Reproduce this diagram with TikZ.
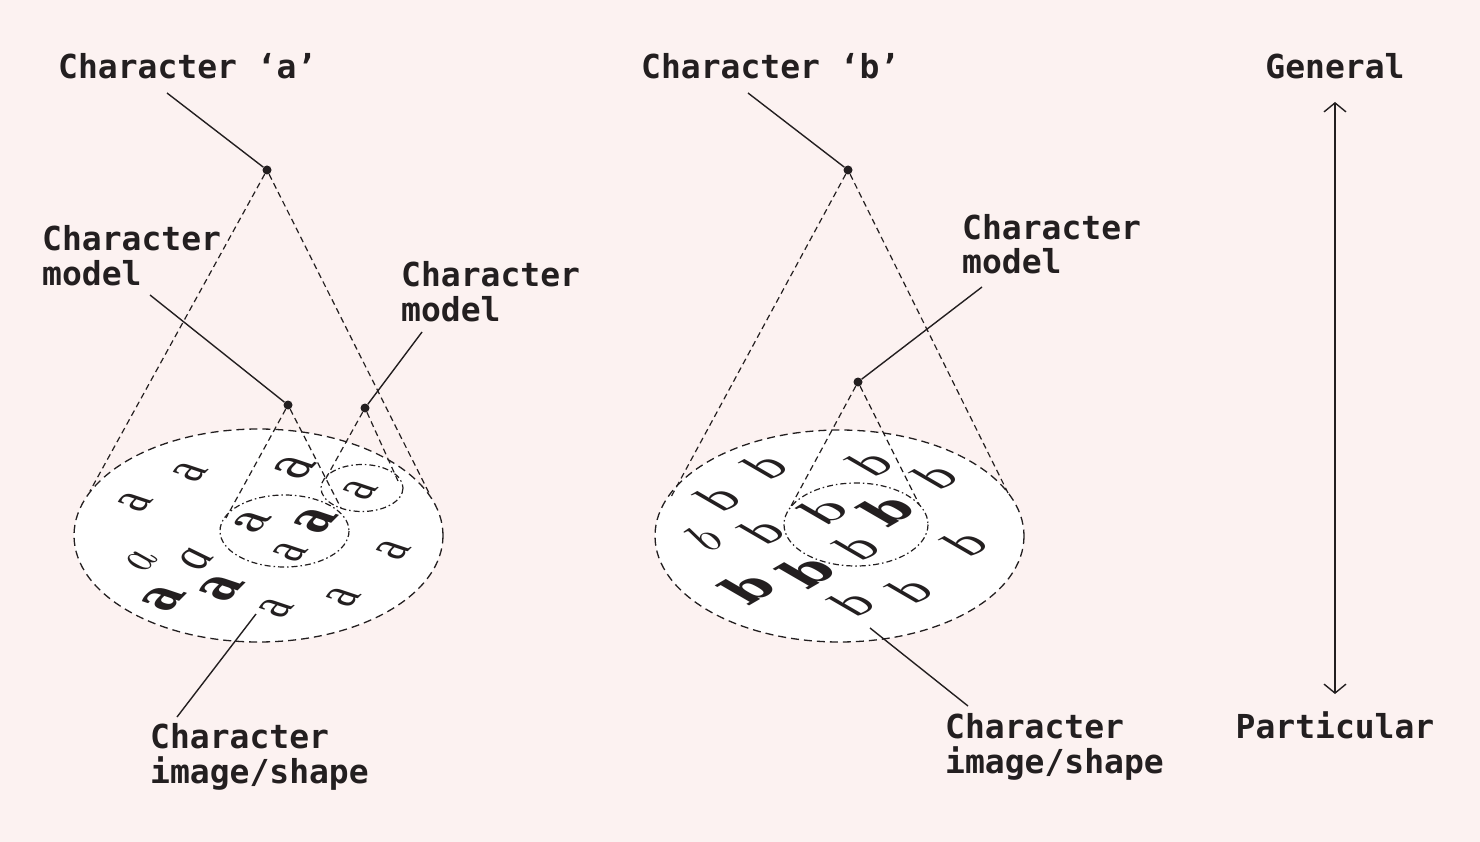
\documentclass[tikz,border=0pt]{standalone}
\usepackage{fontspec}
\usetikzlibrary{arrows.meta}
\newfontfamily\labfont{DejaVu Sans Mono}[BoldFont={DejaVu Sans Mono Bold}]
\newfontfamily\heavyfont{DejaVu Serif}[BoldFont={DejaVu Serif Bold}]
\newfontfamily\regfont{Liberation Serif}
\definecolor{bgpink}{HTML}{FCF2F1}
\definecolor{ink}{HTML}{231F20}
\newcommand{\planeglyph}[2]{\makebox[0pt][c]{\raisebox{-0.32em}{\smash{\scalebox{1}[0.58]{\rotatebox[origin=c]{#1}{#2}}}}}}
\newcommand{\planea}[1]{\planeglyph{60}{#1}}
\newcommand{\planeb}[1]{\planeglyph{45}{#1}}
\begin{document}
\begin{tikzpicture}[x=1pt,y=-1pt,
  lab/.style={font=\labfont\bfseries\fontsize{33}{35}\selectfont, text=ink, inner sep=0pt, align=left},
  dotn/.style={circle, fill=ink, inner sep=0pt, minimum size=9pt},
  leader/.style={draw=ink, line width=1.4pt},
  cone/.style={draw=ink, line width=1.2pt, dash pattern=on 6pt off 4pt},
  bigell/.style={draw=ink, fill=white, line width=1.3pt, dash pattern=on 8pt off 5pt},
  smallell/.style={draw=ink, line width=1.2pt, dash pattern=on 6pt off 3pt on 1.5pt off 3pt},
  lt/.style={inner sep=0pt, text=ink, font=\fontsize{64}{64}\selectfont},
]
\useasboundingbox (0,0) rectangle (1480,842);
\fill[bgpink] (0,0) rectangle (1480,842);

% ---------- left group ----------
\draw[bigell] (258.5,535.5) ellipse [x radius=184.5, y radius=106.5];
\draw[smallell] (284.5,531) ellipse [x radius=64.5, y radius=36];
\draw[smallell] (362,488) ellipse [x radius=41, y radius=23.5];

\node[dotn] (A) at (267,170) {};
\node[dotn] (M1) at (288,405) {};
\node[dotn] (M2) at (365,408) {};
\coordinate (Al) at (90,491);
\coordinate (Ar) at (429,493);
\coordinate (M1l) at (226,518);
\coordinate (M1r) at (341,508);
\coordinate (M2l) at (325,480);
\coordinate (M2r) at (398,481);
\draw[cone] (A) -- (Al);
\draw[cone] (A) -- (Ar);
\draw[cone] (M1) -- (M1l);
\draw[cone] (M1) -- (M1r);
\draw[cone] (M2) -- (M2l);
\draw[cone] (M2) -- (M2r);

% letters a
\node[lt] (a1) at (135,500) {\planea{\regfont a}};
\node[lt] (a2) at (190,470) {\planea{\regfont a}};
\node[lt] (a3) at (295,466) {\planea{\heavyfont a}};
\node[lt] (a4) at (360,488) {\planea{\regfont a}};
\node[lt] (a5) at (252,520) {\planea{\bfseries a}};
\node[lt] (a6) at (315,520) {\planea{\heavyfont\bfseries a}};
\node[lt] (a7) at (290,550) {\planea{\regfont a}};
\node[lt] (a8) at (393,548) {\planea{\regfont a}};
\node[lt] (a9) at (140,560) {\planea{\itshape a}};
\node[lt] (a10) at (196,557) {\planea{\regfont\itshape a}};
\node[lt] (a11) at (163,598) {\planea{\heavyfont\bfseries a}};
\node[lt] (a12) at (221,587) {\planea{\heavyfont\bfseries\fontsize{66}{66}\selectfont a}};
\node[lt] (a13) at (276,606) {\planea{\regfont a}};
\node[lt] (a14) at (343,595) {\planea{\regfont a}};

\node[lab, anchor=base west] (ta) at (58,79) {Character ‘a’};
\node[lab, anchor=base west] (tm1) at (42,286) {Character\\model};
\node[lab, anchor=base west] (tm2) at (401,321) {Character\\model};
\node[lab, anchor=base west] (ti1) at (150,783) {Character\\image/shape};
\coordinate (ta0) at (167,93);
\coordinate (tm10) at (150,295);
\coordinate (tm20) at (422,332);
\coordinate (ti10) at (177,717);
\coordinate (ti1e) at (256,614);
\draw[leader] (ta0) -- (A);
\draw[leader] (tm10) -- (M1);
\draw[leader] (tm20) -- (M2);
\draw[leader] (ti10) -- (ti1e);

% ---------- right group ----------
\draw[bigell] (839.5,536) ellipse [x radius=184.5, y radius=106];
\draw[smallell] (856,524.5) ellipse [x radius=72, y radius=41.5];

\node[dotn] (B) at (848,170) {};
\node[dotn] (M3) at (858,382) {};
\coordinate (Bl) at (671,497);
\coordinate (Br) at (1008,493);
\coordinate (M3l) at (791,506);
\coordinate (M3r) at (919,504);
\draw[cone] (B) -- (Bl);
\draw[cone] (B) -- (Br);
\draw[cone] (M3) -- (M3l);
\draw[cone] (M3) -- (M3r);

\node[lt] (b1) at (718,500) {\planeb{\regfont b}};
\node[lt] (b2) at (765,468) {\planeb{\regfont b}};
\node[lt] (b3) at (870,465) {\planeb{\regfont b}};
\node[lt] (b4) at (935,478) {\planeb{\regfont b}};
\node[lt] (b5) at (702,542) {\planeb{\itshape b}};
\node[lt] (b6) at (762,533) {\planeb{\regfont b}};
\node[lt] (b7) at (823,513) {\planeb{\bfseries b}};
\node[lt] (b8) at (886,513) {\planeb{\heavyfont\bfseries b}};
\node[lt] (b9) at (857,549) {\planeb{\regfont b}};
\node[lt] (b10) at (965,545) {\planeb{\regfont b}};
\node[lt] (b11) at (747,591) {\planeb{\heavyfont\bfseries b}};
\node[lt] (b12) at (806,575) {\planeb{\heavyfont\bfseries\fontsize{66}{66}\selectfont b}};
\node[lt] (b13) at (852,605) {\planeb{\regfont b}};
\node[lt] (b14) at (910,592) {\planeb{\regfont b}};

\node[lab, anchor=base west] (tb) at (641,79) {Character ‘b’};
\node[lab, anchor=base west] (tm3) at (962,274) {Character\\model};
\node[lab, anchor=base west] (ti2) at (945,773) {Character\\image/shape};
\coordinate (tb0) at (748,93);
\coordinate (tm30) at (982,287);
\coordinate (ti20) at (968,706);
\coordinate (ti2e) at (870,628);
\draw[leader] (tb0) -- (B);
\draw[leader] (tm30) -- (M3);
\draw[leader] (ti20) -- (ti2e);

% ---------- scale arrow ----------
\node[lab, anchor=base] (gen) at (1335,79) {General};
\node[lab, anchor=base] (par) at (1335,738) {Particular};
\coordinate (g0) at (1335,102);
\coordinate (p0) at (1335,694);
\draw[draw=ink, line width=1.4pt, {Straight Barb[length=9pt,width=22pt,line width=1.4pt]}-{Straight Barb[length=9pt,width=22pt,line width=1.4pt]}] (g0) -- (p0);
\end{tikzpicture}
\end{document}
